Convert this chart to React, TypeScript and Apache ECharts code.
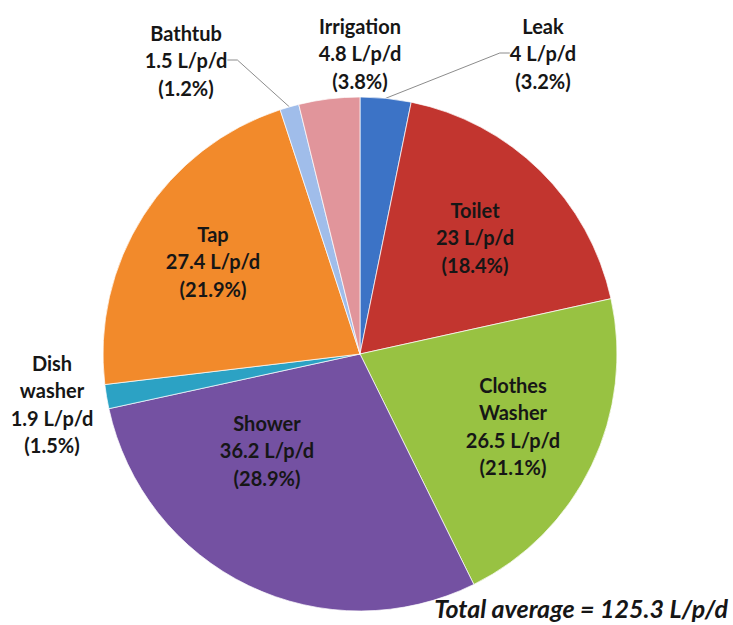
import React, { useEffect, useRef } from "react";
import * as echarts from "echarts";

const categories = ["Leak", "Toilet", "Clothes Washer", "Shower", "Dish washer", "Tap", "Bathtub", "Irrigation"];
const values = [4, 23, 26.5, 36.2, 1.9, 27.4, 1.5, 4.8];
const totalLabel = "Total average = 125.3 L/p/d";

const colors = ["#3C73C6", "#C2352F", "#98C242", "#7451A2", "#2CA2C4", "#F28A2B", "#A0BDEA", "#E1959B"];
const outsideLabels = [true, false, false, false, true, false, true, true];
const showLines = [true, false, false, false, false, false, true, false];
const labelPos: [number, number][] = [
  [543, 53],
  [475, 237],
  [513, 426],
  [267, 450],
  [52, 404],
  [213, 261],
  [186, 60],
  [360, 53],
];

export default function App() {
  const ref = useRef<HTMLDivElement>(null);
  useEffect(() => {
    document.body.style.margin = "0";
    const chart = echarts.init(ref.current!, null, { renderer: "svg" });
    const total = values.reduce((a, b) => a + b, 0);
    chart.setOption({
      animation: false,
      backgroundColor: "#ffffff",
      series: [
        {
          type: "pie",
          center: [360, 354],
          radius: 257,
          startAngle: 90,
          clockwise: true,
          avoidLabelOverlap: false,
          itemStyle: { borderColor: "rgba(255,255,255,0.7)", borderWidth: 1 },
          label: {
            fontFamily: "Lato",
            fontWeight: "bold",
            fontSize: 20,
            lineHeight: 27.5,
            color: "#161616",
            align: "center",
            formatter: (p: any) => {
              const name = p.name === "Clothes Washer" || p.name === "Dish washer" ? p.name.replace(" ", "\n") : p.name;
              const pct = ((p.value / total) * 100).toFixed(1);
              return `${name}\n${p.value} L/p/d\n(${pct}%)`;
            },
          },
          labelLine: { lineStyle: { color: "#8c8c8c", width: 1 }, length: 10, length2: 10 },
          labelLayout: (params: any) => {
            const p = labelPos[params.dataIndex];
            return { x: p[0], y: p[1], align: "center", verticalAlign: "middle" };
          },
          data: categories.map((c, i) => ({
            name: c,
            value: values[i],
            itemStyle: { color: colors[i] },
            label: { position: outsideLabels[i] ? "outside" : "inside" },
            labelLine: { show: showLines[i] },
          })),
        },
      ],
      graphic: [
        {
          type: "text",
          right: 5,
          top: 595,
          style: {
            text: totalLabel,
            fontFamily: "Lato",
            fontWeight: "bold",
            fontStyle: "italic",
            fontSize: 25,
            fill: "#161616",
          },
        },
      ],
    });
    return () => chart.dispose();
  }, []);
  return <div ref={ref} style={{ width: 733, height: 625 }} />;
}
